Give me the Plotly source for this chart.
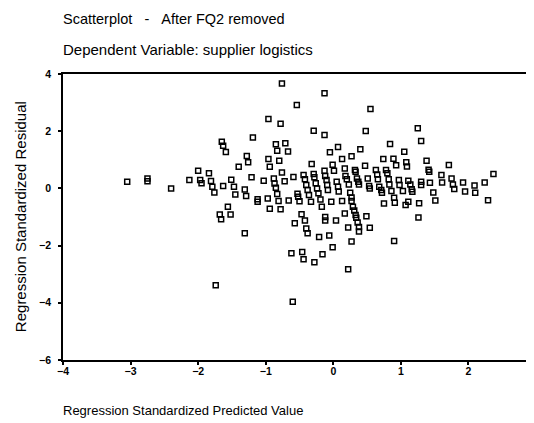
import plotly.graph_objects as go

# Regression standardized predicted value (x) and residual (y)
pred = [-0.76, -0.13, -0.54, 0.55, -0.96, -0.78, -0.29, -0.13, 0.48, 1.25,
        1.30, -1.19, -1.65, -1.63, -1.59, -0.85, -0.71, -0.83, -0.67, 0.84,
        -0.05, 0.07, 0.40, 1.05, -1.28, -1.26, -0.96, -0.94, -0.80, -1.40,
        0.13, 0.27, -0.32, -0.01, 0.01, 0.17, 0.32, 0.47, 0.74, 0.89,
        0.93, 1.08, 1.09, 1.38, 1.41, 1.42, 1.71, 2.37, -2.00, -1.84,
        -1.21, -0.76, -0.59, -3.05, -2.75, -2.75, -2.13, -1.97, -1.95, -1.81,
        -1.79, -1.76, -1.63, -1.51, -1.47, -1.31, -1.29, -1.45, -2.40, -1.03,
        -0.88, -0.87, -0.85, -0.83, -0.72, -1.12, -1.12, -0.97, -0.81, -0.66,
        -0.53, -0.52, -0.50, -0.94, -0.78, -1.56, -1.68, -1.66, -1.52, -1.31,
        -1.74, -0.57, -0.62, -0.60, -0.47, -0.42, -0.40, -0.38, -0.44, -0.42,
        -0.40, -0.38, -0.36, -0.33, -0.29, -0.28, -0.26, -0.24, -0.22, -0.19,
        -0.17, -0.13, -0.12, -0.10, -0.09, -0.08, 0.05, 0.07, 0.08, -0.03,
        -0.46, -0.44, -0.28, -0.16, -0.21, -0.06, -0.01, -0.12, -0.12, 0.04,
        0.17, 0.22, 0.27, 0.22, 0.13, 0.18, 0.20, 0.23, 0.25, 0.27,
        0.27, 0.29, 0.31, 0.33, 0.34, 0.36, 0.38, 0.38, 0.33, 0.35,
        0.37, 0.38, 0.49, 0.54, 0.51, 0.53, 0.54, 0.63, 0.65, 0.66,
        0.68, 0.71, 0.72, 0.78, 0.80, 0.82, 0.83, 0.86, 0.97, 0.98,
        1.03, 1.11, 1.14, 1.16, 1.17, 1.30, 1.30, 1.43, 0.75, 0.90,
        0.91, 1.07, 1.11, 1.27, 1.26, 1.51, 0.90, 1.60, 1.61, 1.75,
        1.77, 1.79, 1.48, 1.92, 1.95, 2.09, 2.10, 2.24, 2.29]

resid = [3.67, 3.33, 2.92, 2.78, 2.43, 2.26, 2.02, 1.87, 2.01, 2.10,
         1.66, 1.78, 1.63, 1.49, 1.27, 1.54, 1.58, 1.32, 1.29, 1.55,
         1.26, 1.45, 1.37, 1.28, 1.13, 0.91, 1.03, 0.76, 0.97, 0.76,
         1.03, 1.12, 0.85, 0.83, 0.62, 0.70, 0.64, 0.79, 1.03, 1.04,
         0.81, 0.91, 0.77, 0.97, 0.65, 0.58, 0.82, 0.50, 0.62, 0.53,
         0.39, 0.56, 0.40, 0.23, 0.35, 0.25, 0.29, 0.29, 0.18, 0.26,
         0.06, -0.14, 0.08, 0.30, 0.06, -0.04, -0.27, -0.21, 0.00, 0.27,
         0.35, 0.17, 0.02, -0.20, 0.25, -0.38, -0.47, -0.35, -0.44, -0.42,
         -0.19, -0.29, -0.45, -0.71, -0.73, -0.64, -0.91, -1.08, -0.91, -1.57,
         -3.39, -1.22, -2.27, -3.96, -0.90, -1.12, -1.40, -1.57, 0.47, 0.32,
         0.12, -0.06, -0.23, -0.47, 0.50, 0.39, 0.18, 0.00, -0.17, -0.39,
         -0.64, 0.62, 0.43, 0.29, 0.12, -0.06, 0.23, 0.06, -0.11, -0.47,
         -2.22, -2.48, -2.58, -2.30, -1.70, -1.65, -2.06, -1.00, -1.12, -1.12,
         -0.88, -1.37, -1.86, -2.83, -0.44, 0.43, 0.32, 0.14, -0.15, -0.32,
         -0.44, -0.64, -0.77, -0.93, -1.03, -1.19, -1.35, -1.51, 0.58, 0.35,
         0.23, 0.14, -0.97, -1.38, 0.35, 0.08, 0.00, 0.64, 0.49, 0.32,
         0.06, -0.06, -0.15, 0.64, 0.53, 0.32, 0.14, -0.09, 0.29, 0.12,
         -0.09, 0.27, 0.14, -0.03, -0.12, 0.23, 0.12, 0.20, -0.53, -0.33,
         -0.50, -0.58, -0.47, -0.52, -1.02, -0.42, -1.84, 0.47, 0.21, 0.35,
         0.14, -0.02, -0.14, 0.21, -0.11, 0.10, -0.15, 0.21, -0.41]

x_ticks = [-4, -3, -2, -1, 0, 1, 2]
y_ticks = [-6, -4, -2, 0, 2, 4]

NB = "\u00a0"
title_main = "Scatterplot" + NB * 3 + "-" + NB * 3 + "After FQ2 removed"
title_sub = "Dependent Variable: supplier logistics"
x_title = "Regression Standardized Predicted Value"
y_title = "Regression Standardized Residual"

FONT = "Liberation Sans, Arial, sans-serif"

fig = go.Figure(go.Scatter(
    x=pred, y=resid, mode="markers",
    marker=dict(symbol="square-open", size=5, color="black",
                line=dict(color="black", width=1.5)),
    hoverinfo="skip", showlegend=False,
))

# the page body adds an 8px margin, so the figure is sized to end at the window edge
fig.update_layout(
    width=526, height=415,
    margin=dict(l=55, r=0, t=66, b=63),
    paper_bgcolor="white", plot_bgcolor="white",
    font=dict(family=FONT, color="black"),
    xaxis=dict(range=[-4, 2.97], tickvals=x_ticks, ticks="outside", ticklen=3,
               tickwidth=2, tickcolor="black", showgrid=False, zeroline=False,
               showline=True, linecolor="black", linewidth=1.8, mirror=True,
               ticklabelstandoff=-3,
               tickfont=dict(family=FONT, size=10.5, color="black", weight="bold")),
    yaxis=dict(range=[-6, 4], tickvals=y_ticks, ticks="outside", ticklen=3,
               tickwidth=2, tickcolor="black", showgrid=False, zeroline=False,
               showline=True, linecolor="black", linewidth=1.8,
               ticklabelstandoff=5,
               tickfont=dict(family=FONT, size=10.5, color="black", weight="bold")),
    annotations=[
        dict(text=title_main, xref="paper", yref="paper", x=-0.004, y=1.228,
             xanchor="left", yanchor="top", showarrow=False,
             font=dict(family=FONT, size=14.5, color="black")),
        dict(text=title_sub, xref="paper", yref="paper", x=-0.004, y=1.084,
             xanchor="left", yanchor="middle", showarrow=False,
             font=dict(family=FONT, size=15, color="black")),
        dict(text=x_title, xref="paper", yref="paper", x=-0.004, y=-0.175,
             xanchor="left", yanchor="middle", showarrow=False,
             font=dict(family=FONT, size=13, color="black")),
        dict(text=y_title, xref="paper", yref="paper", x=-0.091, y=0.5,
             xanchor="center", yanchor="middle", textangle=-90, showarrow=False,
             font=dict(family=FONT, size=15, color="black")),
    ],
)

fig.write_html("out.html")
